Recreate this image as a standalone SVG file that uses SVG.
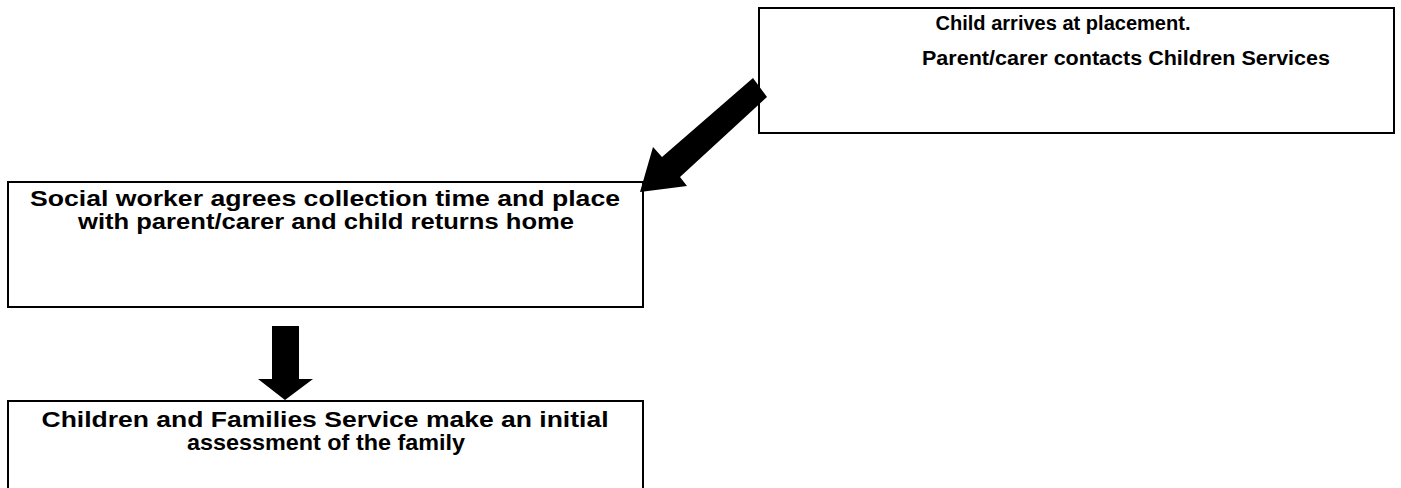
<svg xmlns="http://www.w3.org/2000/svg" width="1401" height="488" viewBox="0 0 1401 488">
<style>
.box{fill:#fff;stroke:#000;stroke-width:2}
.t{font-family:"Liberation Sans",Arial,sans-serif;font-weight:bold;fill:#000;text-anchor:middle}
.s1{font-size:20px}
.s2{font-size:22px}
.arr{fill:#000;stroke:none}
</style>
<rect width="1401" height="488" fill="#fff"/>
<g id="n1">
<rect class="box" x="759" y="8" width="635" height="125"/>
<text class="t s1" x="1063" y="30" textLength="255" lengthAdjust="spacingAndGlyphs">Child arrives at placement.</text>
<text class="t s1" x="1126" y="65" textLength="408" lengthAdjust="spacingAndGlyphs">Parent/carer contacts Children Services</text>
</g>
<g id="n2">
<rect class="box" x="8" y="182" width="635" height="125"/>
<text class="t s2" x="325" y="206" textLength="590" lengthAdjust="spacingAndGlyphs">Social worker agrees collection time and place</text>
<text class="t s2" x="326" y="229" textLength="496" lengthAdjust="spacingAndGlyphs">with parent/carer and child returns home</text>
</g>
<g id="n3">
<rect class="box" x="8" y="401" width="635" height="100"/>
<text class="t s2" x="325" y="427" textLength="567" lengthAdjust="spacingAndGlyphs">Children and Families Service make an initial</text>
<text class="t s2" x="326" y="450" textLength="278" lengthAdjust="spacingAndGlyphs">assessment of the family</text>
</g>
<g id="connectors">
<polygon class="arr" points="753,78 767,97 680,177 687,186 640,192 653,147 662,157"/>
<polygon class="arr" points="272,326 299,326 299,379 313,379 285,400 258,379 272,379"/>
</g>
</svg>
